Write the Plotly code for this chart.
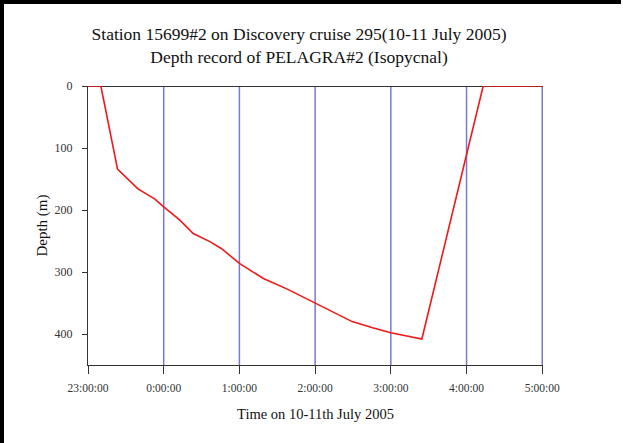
import plotly.graph_objects as go

# Time in hours after 23:00 on 10 July 2005
time_h = [0.0, 0.17, 0.39, 0.66, 0.88, 1.0, 1.21, 1.39, 1.61, 1.76, 2.0,
          2.31, 2.64, 3.0, 3.19, 3.49, 3.76, 4.0, 4.41, 5.22, 6.0]
depth_m = [0, 0, 134, 166, 182, 195, 216, 238, 251, 262, 286,
           310, 328, 350, 361, 380, 390, 398, 408, 0, 0]

x_tickvals = [0, 1, 2, 3, 4, 5, 6]
x_ticklabels = ["23:00:00", "0:00:00", "1:00:00", "2:00:00", "3:00:00", "4:00:00", "5:00:00"]
y_tickvals = [0, 100, 200, 300, 400]

W, H = 623, 443
ML, MR, MT, MB = 88, 80, 86, 78
pw, ph = W - ML - MR, H - MT - MB

font_family = "Liberation Serif, Times New Roman, serif"

fig = go.Figure()
# vertical blue grid lines at every hour tick after the first
for v in x_tickvals[1:]:
    fig.add_vline(x=v, line=dict(color="rgb(120,120,208)", width=1.5), layer="below")

fig.add_trace(go.Scatter(x=time_h, y=depth_m, mode="lines",
                         line=dict(color="#f01818", width=1.6), showlegend=False,
                         hoverinfo="skip"))

fig.update_layout(
    width=W, height=H,
    margin=dict(l=ML, r=MR, t=MT, b=MB),
    paper_bgcolor="white", plot_bgcolor="white",
    font=dict(family=font_family, color="#222"),
    title=dict(text="Station 15699#2 on Discovery cruise 295(10-11 July 2005)<br>Depth record of PELAGRA#2 (Isopycnal)",
               x=(299 - ML) / pw, xanchor="center", xref="paper", y=0.91, yanchor="middle",
               font=dict(size=17.5, family=font_family, color="#111")),
    xaxis=dict(range=[0, 6.01], tickvals=x_tickvals, ticktext=x_ticklabels,
               showgrid=False,
               showline=True, linecolor="#333", linewidth=1.2,
               ticks="outside", ticklen=8, tickcolor="#333", ticklabelstandoff=4,
               tickfont=dict(size=11.5, color="#333"), zeroline=False,
               title=dict(text="Time on 10-11th July 2005", font=dict(size=14.5, color="#111"), standoff=15)),
    yaxis=dict(range=[450, 0], tickvals=y_tickvals,
               showgrid=False, zeroline=True, zerolinecolor="#333", zerolinewidth=1.2,
               showline=True, linecolor="#333", linewidth=1.2,
               ticks="outside", ticklen=5, tickcolor="#333", ticklabelstandoff=7,
               tickfont=dict(size=12, color="#333"),
               title=dict(text="Depth (m)", font=dict(size=15, color="#111"), standoff=3)),
)

# outer black frame on the left and top edges of the picture
FR = 4
fig.add_shape(type="rect", xref="paper", yref="paper", layer="above",
              x0=(0 - ML) / pw, x1=(FR - ML) / pw, y0=1 + MT / ph, y1=-MB / ph,
              fillcolor="black", line=dict(width=0))
fig.add_shape(type="rect", xref="paper", yref="paper", layer="above",
              x0=(0 - ML) / pw, x1=(W - 2 - ML) / pw, y0=1 + MT / ph, y1=1 + (MT - FR) / ph,
              fillcolor="black", line=dict(width=0))

fig.write_html("out.html", config={"displayModeBar": False})

# remove the browser's default page margin so the figure sits at the window origin
with open("out.html", "r", encoding="utf-8") as f:
    html = f.read()
html = html.replace("<head>", "<head><style>html,body{margin:0;padding:0;overflow:hidden;}</style>", 1)
with open("out.html", "w", encoding="utf-8") as f:
    f.write(html)
